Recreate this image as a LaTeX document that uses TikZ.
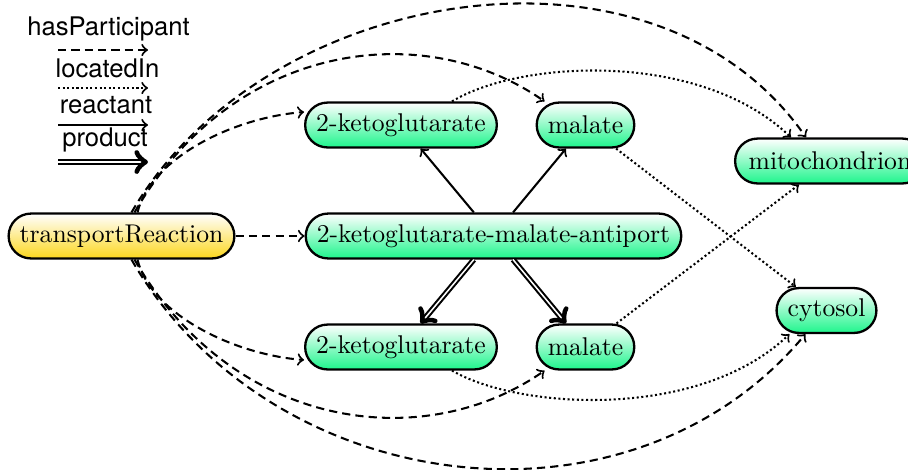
\documentclass[tikz,border=0pt]{standalone}
\usepackage{fontspec}
\newfontfamily\legendfont{TeX Gyre Heros}
\usetikzlibrary{calc}
\definecolor{nodegreen}{RGB}{30,245,140}
\definecolor{nodeyellow}{RGB}{252,215,30}
\begin{document}
\begin{tikzpicture}[x=0.39pt,y=-0.39pt,
  concept/.style={draw,line width=0.9pt,rounded corners=8.7pt,minimum height=17.5pt,
    inner xsep=4.3pt,inner ysep=0pt,top color=white,bottom color=nodegreen},
  reaction/.style={concept,bottom color=nodeyellow},
  hp/.style={thick,dash pattern=on 3.2pt off 2pt,->},
  loc/.style={thick,dash pattern=on 0.8pt off 1pt,->},
  react/.style={thick,->},
  prod/.style={thick,double,->},
  legend/.style={font=\legendfont,anchor=base,inner sep=0pt}]
\useasboundingbox (0,0) rectangle (908,469);

% legend
\coordinate (l1a) at (58,50);  \coordinate (l1b) at (148,50);
\coordinate (l2a) at (58,88);  \coordinate (l2b) at (148,88);
\coordinate (l3a) at (58,125); \coordinate (l3b) at (148,125);
\coordinate (l4a) at (58,162); \coordinate (l4b) at (148,162);
\node[legend] (t1) at (108.5,35) {hasParticipant};
\node[legend] (t2) at (107.5,77) {locatedIn};
\node[legend] (t3) at (106,113) {reactant};
\node[legend] (t4) at (105,146) {product};
\draw[hp] (l1a) -- (l1b);
\draw[loc] (l2a) -- (l2b);
\draw[react] (l3a) -- (l3b);
\draw[prod] (l4a) -- (l4b);

% nodes
\node[reaction] (tr) at (121.5,236) {transportReaction};
\node[concept] (k1) at (401,125) {2-ketoglutarate};
\node[concept] (m1) at (585.5,125) {malate};
\node[concept] (an) at (493.5,236) {2-ketoglutarate-malate-antiport};
\node[concept] (k2) at (401,347) {2-ketoglutarate};
\node[concept] (m2) at (585.5,347) {malate};
\node[concept,minimum width=74pt] (mi) at (830,161) {mitochondrion};
\node[concept] (cy) at (826.5,310.5) {cytosol};

% hasParticipant
\draw[hp] (tr) -- (an);
\draw[hp] ($(tr.north)+(16,0)$) .. controls (150,160) and (230,118) .. ($(k1.west)+(0,-13)$);
\draw[hp] ($(tr.north)+(13,0)$) .. controls (234,41) and (424,17.4) .. ($(m1.north west)+(9,0)$);
\draw[hp] ($(tr.north)+(10,0)$) .. controls (264,-16) and (655,-80) .. ($(mi.north west)+(72,0)$);
\draw[hp] ($(tr.south)+(16,0)$) .. controls (150,312) and (230,354) .. ($(k2.west)+(0,13)$);
\draw[hp] ($(tr.south)+(13,0)$) .. controls (234,431) and (424,454.6) .. ($(m2.south west)+(9,0)$);
\draw[hp] ($(tr.south)+(10,0)$) .. controls (270,499) and (629,545.5) .. ($(cy.south west)+(30,0)$);

% reactant / product
\draw[react] (an) -- (k1);
\draw[react] (an) -- (m1);
\draw[prod] (an) -- (k2);
\draw[prod] (an) -- (m2);

% locatedIn
\draw[loc] (m1) -- (cy);
\draw[loc] (m2) -- (mi);
\draw[loc] ($(k1.north)+(51,0)$) .. controls (520,60) and (700,50) .. ($(mi.north west)+(57,0)$);
\draw[loc] ($(k2.south)+(51,0)$) .. controls (520,410) and (700,420) .. ($(cy.south west)+(14,0)$);
\end{tikzpicture}
\end{document}
